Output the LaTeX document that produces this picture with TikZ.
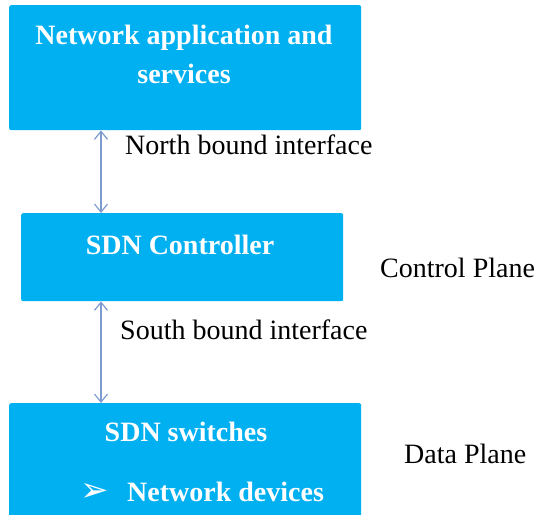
\documentclass[tikz,border=0pt]{standalone}
\usepackage{fontspec}
\setmainfont{Liberation Serif}
\newfontfamily\dingfont{DejaVu Sans}
\usetikzlibrary{arrows.meta}
\definecolor{sdnblue}{HTML}{00B0F0}
\definecolor{linkblue}{HTML}{7E9BCF}
\tikzset{
  layer/.style={fill=sdnblue, rounded corners=2pt, inner sep=0pt, anchor=north west},
  boxtext/.style={text=white, inner sep=0pt, font=\fontsize{28}{38.8}\selectfont\bfseries},
  label/.style={inner sep=0pt, anchor=base west, font=\fontsize{28}{34}\selectfont},
  link/.style={draw=linkblue, line width=1.2pt,
    {Straight Barb[length=8pt,width=13pt]}-{Straight Barb[length=8pt,width=13pt]}}
}
\begin{document}
\begin{tikzpicture}[x=1pt,y=-1pt]
\useasboundingbox (0,0) rectangle (538,514);
% the three layers
\node[layer, minimum width=352pt, minimum height=125pt] (app) at (9,5) {};
\node[layer, minimum width=322pt, minimum height=88pt] (ctrl) at (21,213) {};
\node[layer, minimum width=352pt, minimum height=114pt] (data) at (9,403) {};
% texts in the boxes
\node[boxtext, align=center, anchor=base] (apptxt) at (184,83.4) {Network application and\\services};
\node[boxtext, anchor=base] (ctrltxt) at (180,254.5) {SDN Controller};
\node[boxtext, anchor=base] (swtxt) at (186,441) {SDN switches};
\node[boxtext, anchor=base west] (devtxt) at (127,501) {Network devices};
\node[text=white, inner sep=0pt, anchor=base, font=\dingfont\fontsize{34}{36}\selectfont] (bullet) at (95,501) {➢};
% interfaces
\coordinate (axis) at (101,0);
\draw[link] (app.south -| axis) -- (ctrl.north -| axis);
\draw[link] (ctrl.south -| axis) -- (data.north -| axis);
\node[label] (north) at (125,154) {North bound interface};
\node[label] (south) at (120,339.5) {South bound interface};
% planes
\node[label] (cplane) at (380,277) {Control Plane};
\node[label] (dplane) at (404,463) {Data Plane};
\end{tikzpicture}
\end{document}
